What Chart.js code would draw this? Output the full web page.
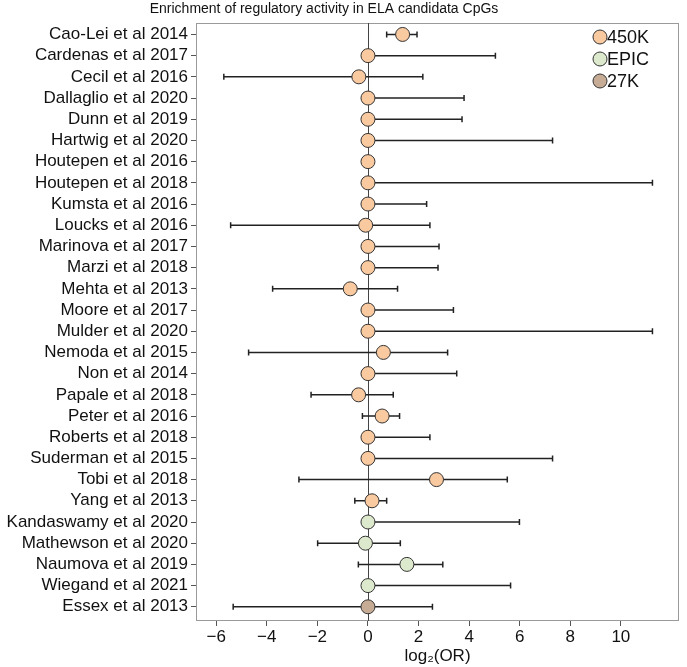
<!DOCTYPE html>
<html>
<head>
<meta charset="utf-8">
<script src="https://cdn.jsdelivr.net/npm/chart.js@4/dist/chart.umd.min.js"></script>
<style>
  html, body { margin: 0; padding: 0; background: #fff; }
  #wrap { width: 687px; height: 667px; }
</style>
</head>
<body>
<div id="wrap"><canvas id="chart" width="687" height="667"></canvas></div>
<script>
const studies = [
  "Cao-Lei et al 2014", "Cardenas et al 2017", "Cecil et al 2016", "Dallaglio et al 2020",
  "Dunn et al 2019", "Hartwig et al 2020", "Houtepen et al 2016", "Houtepen et al 2018",
  "Kumsta et al 2016", "Loucks et al 2016", "Marinova et al 2017", "Marzi et al 2018",
  "Mehta et al 2013", "Moore et al 2017", "Mulder et al 2020", "Nemoda et al 2015",
  "Non et al 2014", "Papale et al 2018", "Peter et al 2016", "Roberts et al 2018",
  "Suderman et al 2015", "Tobi et al 2018", "Yang et al 2013", "Kandaswamy et al 2020",
  "Mathewson et al 2020", "Naumova et al 2019", "Wiegand et al 2021", "Essex et al 2013"
];
const platform = [
  "450K", "450K", "450K", "450K", "450K", "450K", "450K", "450K",
  "450K", "450K", "450K", "450K", "450K", "450K", "450K", "450K",
  "450K", "450K", "450K", "450K", "450K", "450K", "450K", "EPIC",
  "EPIC", "EPIC", "EPIC", "27K"
];
const logOR = [
  1.37, 0, -0.36, 0, 0, 0, 0, 0,
  0, -0.09, 0, 0, -0.70, 0, 0, 0.61,
  0, -0.37, 0.56, 0, 0, 2.71, 0.16, 0,
  -0.10, 1.54, 0, 0
];
const lowerCI = [
  0.74, 0, -5.70, 0, 0, 0, 0, 0,
  0, -5.43, 0, 0, -3.77, 0, 0, -4.72,
  0, -2.25, -0.22, 0, 0, -2.73, -0.52, 0,
  -1.99, -0.38, 0, -5.33
];
const upperCI = [
  1.94, 5.04, 2.17, 3.80, 3.72, 7.30, 0, 11.25,
  2.32, 2.45, 2.81, 2.77, 1.17, 3.38, 11.25, 3.15,
  3.51, 1.00, 1.25, 2.45, 7.30, 5.51, 0.74, 5.99,
  1.28, 2.96, 5.64, 2.55
];
const platforms = ["450K", "EPIC", "27K"];
const platformColors = ["#f9c9a0", "#dde9cc", "#c6ac94"];
const xTicks = [-6, -4, -2, 0, 2, 4, 6, 8, 10];

const datasets = platforms.map((p, k) => ({
  label: p,
  data: studies.map((s, i) => platform[i] === p ? { x: logOR[i], y: i } : null).filter(d => d),
  backgroundColor: platformColors[k],
  borderColor: "#333",
  borderWidth: 1,
  pointRadius: 7,
  pointHoverRadius: 7
}));

const decor = {
  id: "decor",
  beforeDatasetsDraw(chart) {
    const { ctx, chartArea: a, scales: { x, y } } = chart;
    ctx.save();
    // plot frame
    ctx.strokeStyle = "#9a9a9a";
    ctx.lineWidth = 1;
    ctx.strokeRect(a.left + 0.5, a.top + 0.5, a.right - a.left - 1, a.bottom - a.top - 1);
    // reference line at 0
    const x0 = Math.round(x.getPixelForValue(0)) + 0.5;
    ctx.strokeStyle = "#444";
    ctx.beginPath();
    ctx.moveTo(x0, a.top);
    ctx.lineTo(x0, a.bottom);
    ctx.stroke();
    // error bars
    ctx.strokeStyle = "#222";
    ctx.lineWidth = 1.5;
    for (let i = 0; i < studies.length; i++) {
      if (lowerCI[i] === upperCI[i]) continue;
      const py = y.getPixelForValue(i);
      const x1 = x.getPixelForValue(lowerCI[i]);
      const x2 = x.getPixelForValue(upperCI[i]);
      ctx.beginPath();
      ctx.moveTo(x1, py);
      ctx.lineTo(x2, py);
      ctx.moveTo(x1, py - 3);
      ctx.lineTo(x1, py + 3);
      ctx.moveTo(x2, py - 3);
      ctx.lineTo(x2, py + 3);
      ctx.stroke();
    }
    ctx.restore();
  },
  afterDraw(chart) {
    const { ctx } = chart;
    ctx.save();
    // title
    ctx.fillStyle = "#111";
    ctx.font = "14px 'Liberation Sans', Arial, sans-serif";
    ctx.textAlign = "center";
    ctx.textBaseline = "middle";
    ctx.fillText("Enrichment of regulatory activity in ELA candidata CpGs", 324, 9);
    // legend
    ctx.font = "18px 'Liberation Sans', Arial, sans-serif";
    ctx.textAlign = "left";
    chart.data.datasets.forEach((ds, k) => {
      const ly = 37 + 22 * k;
      ctx.beginPath();
      ctx.arc(600, ly, 7, 0, Math.PI * 2);
      ctx.fillStyle = ds.backgroundColor;
      ctx.fill();
      ctx.strokeStyle = "#333";
      ctx.lineWidth = 1;
      ctx.stroke();
      ctx.fillStyle = "#111";
      ctx.fillText(ds.label, 607, ly + 1);
    });
    ctx.restore();
  }
};

const font = { family: "'Liberation Sans', Arial, sans-serif", size: 17 };

new Chart(document.getElementById("chart"), {
  type: "scatter",
  data: { datasets: datasets },
  options: {
    responsive: false,
    animation: false,
    layout: { padding: { top: 23, right: 2, left: 0, bottom: 0 } },
    plugins: { legend: { display: false }, tooltip: { enabled: false } },
    scales: {
      x: {
        type: "linear",
        min: -6.8,
        max: 12.3,
        afterBuildTicks: (s) => { s.ticks = xTicks.map(v => ({ value: v })); },
        ticks: {
          font: font,
          color: "#111",
          padding: 1,
          maxRotation: 0,
          callback: (v) => v < 0 ? "\u2212" + Math.abs(v) : String(v)
        },
        grid: { drawOnChartArea: false, tickLength: 5, color: "#555" },
        border: { display: false },
        title: { display: true, text: "log\u2082(OR)", font: font, color: "#111", padding: 0 },
        afterFit: (s) => { s.height = 46; }
      },
      y: {
        type: "linear",
        reverse: true,
        min: -0.54,
        max: 27.67,
        afterBuildTicks: (s) => { s.ticks = studies.map((_, i) => ({ value: i })); },
        ticks: {
          autoSkip: false,
          font: font,
          color: "#111",
          padding: 3,
          callback: (v) => studies[v]
        },
        grid: { drawOnChartArea: false, tickLength: 5, color: "#555" },
        border: { display: false },
        afterFit: (s) => { s.width = 196; }
      }
    }
  },
  plugins: [decor]
});
</script>
</body>
</html>
